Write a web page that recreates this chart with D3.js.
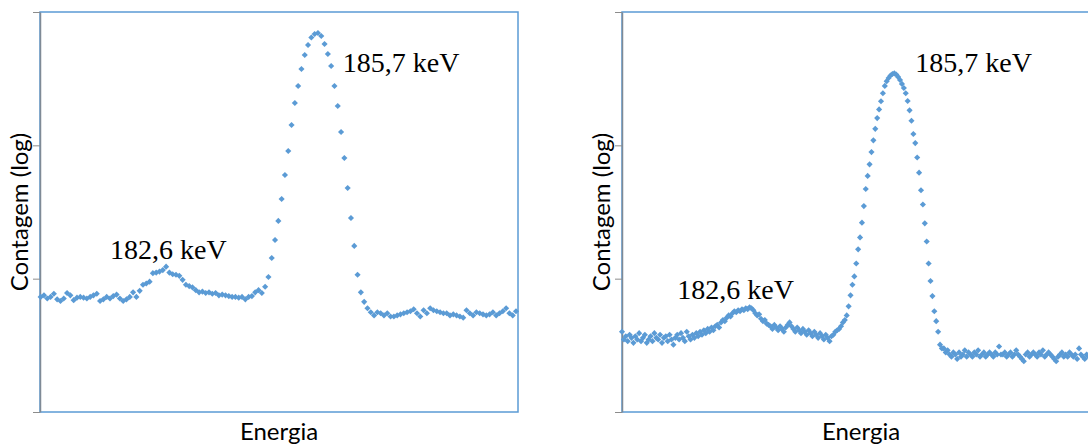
<!DOCTYPE html>
<html>
<head>
<meta charset="utf-8">
<style>
body { margin: 0; background: #fff; }
</style>
</head>
<body>
<script src="https://d3js.org/d3.v7.min.js"></script>
<script>

// counts per channel (log scale)
var leftCounts = [
  73, 75, 71, 73, 77, 70, 68, 71, 78, 75,
  69, 72, 73, 72, 71, 73, 75, 77, 68, 70,
  73, 71, 74, 76, 71, 68, 70, 73, 79, 73,
  81, 90, 92, 95, 110, 111, 113, 116, 123, 111,
  108, 107, 105, 98, 90, 88, 86, 82, 79, 80,
  78, 79, 77, 78, 75, 76, 75, 74, 73, 73,
  72, 73, 70, 73, 74, 79, 82, 78, 87, 103,
  143, 195, 271, 396, 599, 907, 1421, 2077, 2786, 3737,
  4758, 5654, 6442, 6839, 6960, 6607, 5754, 4842, 3936, 2786,
  1972, 1259, 804, 479, 285, 176, 107, 79, 67, 60,
  56, 53, 56, 55, 53, 55, 52, 52, 53, 54,
  55, 56, 57, 59, 55, 52, 58, 55, 60, 58,
  57, 56, 55, 55, 53, 54, 53, 52, 51, 58,
  55, 53, 56, 55, 54, 53, 54, 56, 53, 55,
  57, 60, 55, 53, 57
];

var rightCounts = [
  40, 35, 37, 34, 38, 36, 33, 37, 35, 39,
  34, 36, 38, 33, 35, 37, 34, 39, 36, 35,
  38, 33, 36, 37, 34, 38, 35, 32, 36, 38,
  35, 39, 36, 34, 40, 37, 35, 38, 36, 39,
  37, 40, 38, 41, 39, 42, 40, 43, 41, 44,
  45, 43, 47, 49, 48, 51, 53, 52, 55, 57,
  56, 58, 57, 59, 58, 60, 59, 61, 60, 58,
  55, 53, 54, 50, 48, 49, 46, 45, 44, 42,
  45, 43, 41, 44, 42, 40, 43, 45, 47, 44,
  42, 40, 43, 41, 39, 42, 40, 38, 41, 39,
  37, 40, 38, 36, 39, 37, 35, 38, 36, 34,
  37, 38, 40, 41, 42, 44, 47, 49, 53, 62,
  75, 90, 104, 130, 166, 204, 263, 350, 470, 590,
  720, 890, 1090, 1330, 1600, 1860, 2140, 2460, 2790, 3030,
  3200, 3340, 3430, 3467, 3400, 3260, 3090, 2890, 2690, 2460,
  2150, 1830, 1530, 1216, 1040, 810, 624, 460, 360, 260,
  190, 130, 96, 74, 57, 48, 40, 32, 30, 30,
  28, 29, 27, 26, 28, 27, 25, 28, 26, 27,
  29, 26, 28, 27, 26, 28, 27, 29, 26, 27,
  28, 26, 27, 28, 27, 26, 28, 27, 31, 27,
  27, 28, 26, 27, 28, 26, 27, 29, 27, 26,
  25, 24, 27, 28, 26, 27, 28, 27, 26, 28,
  27, 29, 26, 27, 28, 27, 26, 25, 24, 26,
  27, 28, 26, 27, 26, 28, 27, 26, 27, 25,
  30, 27, 26, 25, 27, 26
];

// log decades used as (unlabelled) y ticks
var yTicks = [10, 100, 1000, 10000];

// peak labels: text, channel, count where the text starts
var leftLabels = [
  {text: "182,6 keV", ch: 21, count: 140},
  {text: "185,7 keV", ch: 91.5, count: 3550}
];
var rightLabels = [
  {text: "182,6 keV", ch: 29, count: 70},
  {text: "185,7 keV", ch: 154, count: 3550}
];

var xTitle = "Energia";
var yTitle = "Contagem (log)";

var width = 1088, height = 445;

var svg = d3.select("body")
  .append("svg")
    .attr("width", width)
    .attr("height", height);

// plot area boxes
var panels = [
  {counts: leftCounts, labels: leftLabels, x0: 40, x1: 518, domain: [-0.2, 144.6]},
  {counts: rightCounts, labels: rightLabels, x0: 622, x1: 1100, domain: [0, 251]}
];
var plotTop = 12, plotBottom = 412;

var yScale = d3.scaleLog()
  .domain([10, 10000])
  .range([plotBottom, plotTop]);

var diamond = d3.symbol().type(d3.symbolDiamond2 || d3.symbolSquare).size(24);

panels.forEach(function(p) {
  var xScale = d3.scaleLinear()
    .domain(p.domain)
    .range([p.x0, p.x1]);

  var g = svg.append("g");

  // blue frame of the plot area
  g.append("rect")
    .attr("x", p.x0)
    .attr("y", plotTop)
    .attr("width", p.x1 - p.x0)
    .attr("height", plotBottom - plotTop)
    .attr("fill", "none")
    .attr("stroke", "#5b9bd5")
    .attr("stroke-width", 1.5);

  // y axis, ticks only
  var yAxis = d3.axisLeft(yScale)
    .tickValues(yTicks)
    .tickFormat("")
    .tickSize(7)
    .tickSizeOuter(0);

  var ax = g.append("g")
    .attr("transform", "translate(" + p.x0 + ",0)")
    .call(yAxis);
  ax.select(".domain").attr("stroke", "#7f8a96").attr("stroke-width", 1.5);
  ax.selectAll(".tick line").attr("stroke", "#8c8c8c").attr("stroke-width", 1);

  // data points
  g.selectAll("path.pt")
    .data(p.counts)
    .enter()
    .append("path")
      .attr("class", "pt")
      .attr("d", diamond)
      .attr("transform", function(d, i) {
        return "translate(" + xScale(i) + "," + yScale(d) + ")";
      })
      .attr("fill", "#5b9bd5");

  // peak labels (serif, like the original)
  g.selectAll("text.peak")
    .data(p.labels)
    .enter()
    .append("text")
      .attr("class", "peak")
      .attr("x", function(d) { return xScale(d.ch); })
      .attr("y", function(d) { return yScale(d.count); })
      .style("font-family", "'Liberation Serif', 'DejaVu Serif', serif")
      .style("font-size", "28px")
      .attr("fill", "#000")
      .text(function(d) { return d.text; });

  // axis titles
  g.append("text")
    .attr("x", (p.x0 + p.x1) / 2)
    .attr("y", 440)
    .attr("text-anchor", "middle")
    .style("font-family", "Lato, 'Open Sans', sans-serif")
    .style("font-size", "24px")
    .text(xTitle);

  g.append("text")
    .attr("transform", "translate(" + (p.x0 - 12) + "," + ((plotTop + plotBottom) / 2) + ") rotate(-90)")
    .attr("text-anchor", "middle")
    .style("font-family", "Lato, 'Open Sans', sans-serif")
    .style("font-size", "24px")
    .text(yTitle);
});

</script>
</body>
</html>
